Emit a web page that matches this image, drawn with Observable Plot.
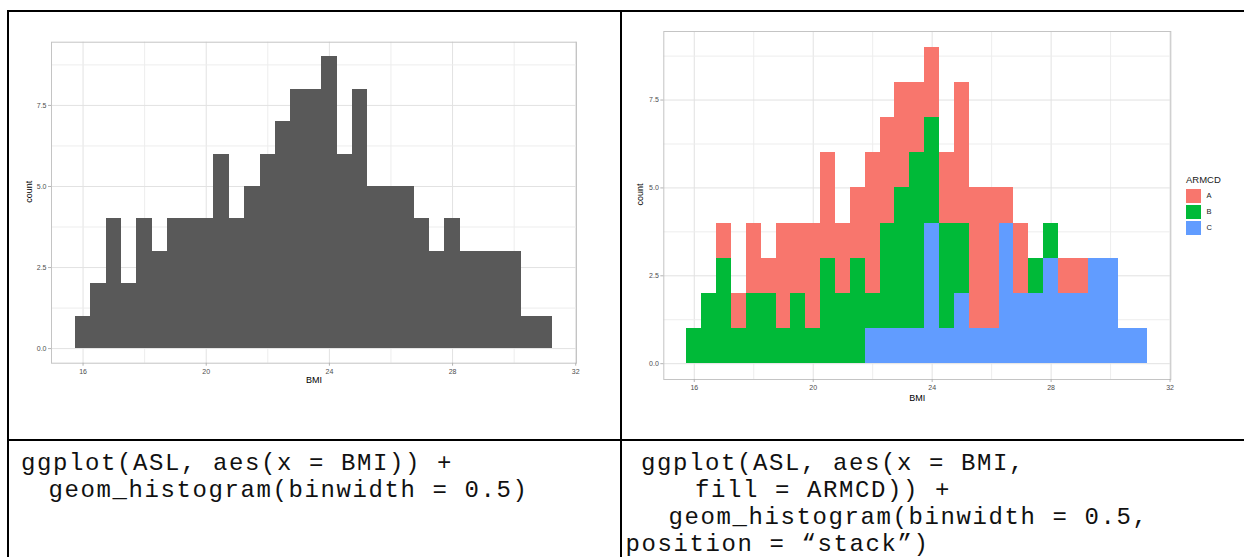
<!DOCTYPE html>
<html>
<head>
<meta charset="utf-8">
<script src="https://cdn.jsdelivr.net/npm/d3@7"></script>
<script src="https://cdn.jsdelivr.net/npm/@observablehq/plot@0.6"></script>
<style>
  html, body { margin: 0; padding: 0; background: #fff; }
  body { width: 1244px; height: 557px; overflow: hidden; position: relative; font-family: "Liberation Sans", Arial, sans-serif; }
  .rule { position: absolute; background: #000; }
  .code { position: absolute; font-family: "Liberation Mono", "Courier New", monospace; font-size: 24px; letter-spacing: 1.6px; line-height: 25px; white-space: pre; color: #111; }
  .chart { position: absolute; }
  .chart svg { overflow: visible; }
  .leg { position: absolute; white-space: nowrap; color: #1a1a1a; }
</style>
</head>
<body>
<script>
// ---- data ----
const binCenters = [16, 16.5, 17, 17.5, 18, 18.5, 19, 19.5, 20, 20.5, 21, 21.5, 22, 22.5, 23, 23.5,
                    24, 24.5, 25, 25.5, 26, 26.5, 27, 27.5, 28, 28.5, 29, 29.5, 30, 30.5, 31];
const binWidth = 0.5;
const countAll = [1, 2, 4, 2, 4, 3, 4, 4, 4, 6, 4, 5, 6, 7, 8, 8, 9, 6, 8, 5, 5, 5, 4, 3, 4, 3, 3, 3, 3, 1, 1];
const countA   = [0, 0, 1, 1, 2, 1, 3, 2, 3, 3, 2, 2, 4, 3, 3, 2, 2, 2, 4, 4, 4, 1, 2, 0, 0, 1, 1, 0, 0, 0, 0];
const countB   = [1, 2, 3, 1, 2, 2, 1, 2, 1, 3, 2, 3, 1, 3, 4, 5, 3, 3, 2, 0, 0, 0, 0, 1, 1, 0, 0, 0, 0, 0, 0];
const countC   = [0, 0, 0, 0, 0, 0, 0, 0, 0, 0, 0, 0, 1, 1, 1, 1, 4, 1, 2, 1, 1, 4, 2, 2, 3, 2, 2, 3, 3, 1, 1];
const groups = ["A", "B", "C"];
const groupColors = ["#F8766D", "#00BA38", "#619CFF"];
const xTicks = [16, 20, 24, 28, 32];
const xMinor = [18, 22, 26, 30];
const yTicks = [0, 2.5, 5, 7.5];
const yMinor = [1.25, 3.75, 6.25, 8.75];
const xTitle = "BMI";
const yTitle = "count";
const legendTitle = "ARMCD";
const codeLeft = ["ggplot(ASL, aes(x = BMI)) +", "geom_histogram(binwidth = 0.5)"];
const codeRight = ["ggplot(ASL, aes(x = BMI,", "fill = ARMCD)) +", "geom_histogram(binwidth = 0.5,", "position = \u201cstack\u201d)"];

// ---- helpers ----
const body = document.body;
function addRule(l, t, w, h) {
  const d = document.createElement("div");
  d.className = "rule";
  Object.assign(d.style, {left: l + "px", top: t + "px", width: w + "px", height: h + "px"});
  body.appendChild(d);
}
function addCode(text, x, baseline) {
  const d = document.createElement("div");
  d.className = "code";
  d.textContent = text;
  d.style.left = x + "px";
  d.style.top = (baseline - 18.9) + "px";
  body.appendChild(d);
}

const xDomain = [14.975, 32.025];
const yDomain = [-0.45, 9.45];

function baseMarks() {
  return [
    Plot.gridX(xMinor, {stroke: "#ededed", strokeOpacity: 1, strokeWidth: 1}),
    Plot.gridX(xTicks, {stroke: "#e2e2e2", strokeOpacity: 1, strokeWidth: 1}),
    Plot.gridY(yMinor, {stroke: "#ededed", strokeOpacity: 1, strokeWidth: 1}),
    Plot.gridY(yTicks, {stroke: "#e2e2e2", strokeOpacity: 1, strokeWidth: 1})
  ];
}
function axisMarks(titleDy, countDx) {
  return [
    Plot.frame({stroke: "#c4c4c4"}),
    Plot.axisX(xTicks, {tickSize: 3, tickPadding: 2.5, fontSize: 7, stroke: "#b3b3b3", fill: "#4d4d4d", label: null}),
    Plot.axisY(yTicks, {tickSize: 3, tickPadding: 2, fontSize: 7, stroke: "#b3b3b3", fill: "#4d4d4d", label: null, tickFormat: d3.format(".1f")}),
    Plot.text([xTitle], {frameAnchor: "bottom", dy: titleDy, text: d => d, fontSize: 9, fill: "#000"}),
    Plot.text([yTitle], {frameAnchor: "left", dx: countDx, rotate: -90, text: d => d, fontSize: 9, fill: "#000"})
  ];
}

// ---- left histogram ----
const rowsAll = binCenters.map((c, i) => ({x1: c - binWidth / 2, x2: c + binWidth / 2, count: countAll[i]}));
const left = Plot.plot({
  width: 600, height: 380,
  marginLeft: 41, marginRight: 34, marginTop: 21.7, marginBottom: 37.3,
  x: {domain: xDomain}, y: {domain: yDomain},
  style: {fontFamily: "Liberation Sans, Arial, sans-serif", background: "transparent"},
  marks: [
    ...baseMarks(),
    Plot.rectY(rowsAll, {x1: "x1", x2: "x2", y1: 0, y2: "count", fill: "#595959", shapeRendering: "crispEdges"}),
    ...axisMarks(20, -22)
  ]
});
const leftDiv = document.createElement("div");
leftDiv.className = "chart";
leftDiv.style.left = "10px"; leftDiv.style.top = "20px";
leftDiv.appendChild(left);
body.appendChild(leftDiv);

// ---- right stacked histogram ----
const groupCounts = [countA, countB, countC];
const rowsGroup = [];
groups.forEach((g, gi) => {
  binCenters.forEach((c, i) => {
    const n = groupCounts[gi][i];
    if (n > 0) rowsGroup.push({x1: c - binWidth / 2, x2: c + binWidth / 2, count: n, ARMCD: g});
  });
});
const right = Plot.plot({
  width: 550, height: 410,
  marginLeft: 33.3, marginRight: 9.7, marginTop: 21, marginBottom: 41,
  x: {domain: xDomain}, y: {domain: yDomain},
  color: {domain: groups, range: groupColors},
  style: {fontFamily: "Liberation Sans, Arial, sans-serif", background: "transparent"},
  marks: [
    ...baseMarks(),
    Plot.rectY(rowsGroup, Plot.stackY({x1: "x1", x2: "x2", y: "count", fill: "ARMCD", z: "ARMCD", order: ["C", "B", "A"], shapeRendering: "crispEdges"})),
    ...axisMarks(21, -23.3)
  ]
});
const rightDiv = document.createElement("div");
rightDiv.className = "chart";
rightDiv.style.left = "630px"; rightDiv.style.top = "10px";
rightDiv.appendChild(right);
body.appendChild(rightDiv);

// ---- legend (HTML, from the colour scale) ----
const colorScale = right.scale("color");
const lt = document.createElement("div");
lt.className = "leg";
lt.textContent = legendTitle;
Object.assign(lt.style, {left: "1186px", top: "174.5px", fontSize: "9.5px", lineHeight: "9.5px"});
body.appendChild(lt);
colorScale.domain.forEach((g, i) => {
  const top = 189.3 + i * 16;
  const sw = document.createElement("div");
  sw.className = "leg";
  Object.assign(sw.style, {left: "1186px", top: top + "px", width: "14.5px", height: "14px", background: colorScale.apply(g)});
  body.appendChild(sw);
  const lab = document.createElement("div");
  lab.className = "leg";
  lab.textContent = g;
  Object.assign(lab.style, {left: "1206.5px", top: (top + 7 - 4) + "px", fontSize: "7.5px", lineHeight: "8px"});
  body.appendChild(lab);
});

// ---- table rules ----
addRule(7, 10, 1237, 2);
addRule(7, 10, 2, 547);
addRule(620, 10, 2, 547);
addRule(7, 438.5, 1237, 2);

// ---- code text ----
addCode(codeLeft[0], 21, 470);
addCode(codeLeft[1], 48.5, 497);
addCode(codeRight[0], 641, 470);
addCode(codeRight[1], 695, 497);
addCode(codeRight[2], 668.5, 524);
addCode(codeRight[3], 625.5, 551);
</script>
</body>
</html>
